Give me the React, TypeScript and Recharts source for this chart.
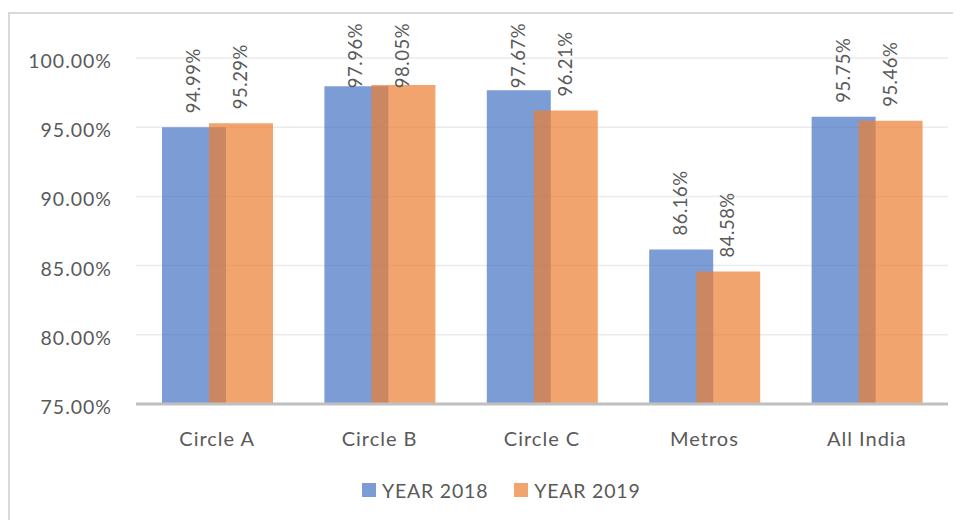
import {
  BarChart,
  Bar,
  XAxis,
  YAxis,
  CartesianGrid,
  Legend,
  LabelList,
} from "recharts";

// categories and values (in %)
const categories = ["Circle A", "Circle B", "Circle C", "Metros", "All India"];
const year2018 = [94.99, 97.96, 97.67, 86.16, 95.75];
const year2019 = [95.29, 98.05, 96.21, 84.58, 95.46];
const yTicks = [75, 80, 85, 90, 95, 100];

const FONT = "Lato, 'Open Sans', sans-serif";
const TEXT = "#595959";
const BLUE = "#4472C4";
const ORANGE = "#ED7D31";

const data = categories.map((name, i) => ({
  name,
  y2018: year2018[i],
  y2019: year2019[i],
}));

// rotated value label above each bar
const ValueLabel = (props: any) => {
  const { x, y, width, value } = props;
  const cx = x + width / 2 + 6;
  const len = 64;
  let ty = y - 14;
  let anchor = "start";
  // keep the label inside the chart frame
  if (ty - len < 9) {
    ty = 9;
    anchor = "end";
  }
  return (
    <text
      x={cx}
      y={ty}
      transform={`rotate(-90 ${cx} ${ty})`}
      textAnchor={anchor}
      fill={TEXT}
      fontFamily={FONT}
      fontSize={18.5}
      letterSpacing={0.5}
    >
      {`${Number(value).toFixed(2)}%`}
    </text>
  );
};

const YTick = (props: any) => {
  const { x, y, payload } = props;
  return (
    <text
      x={x}
      y={y + 3}
      dy="0.355em"
      textAnchor="end"
      fill={TEXT}
      fontFamily={FONT}
      fontSize={19.5}
      letterSpacing={1}
    >
      {`${payload.value.toFixed(2)}%`}
    </text>
  );
};

const XTick = (props: any) => {
  const { x, y, payload } = props;
  return (
    <text
      x={x}
      y={y}
      dy={14}
      textAnchor="middle"
      fill={TEXT}
      fontFamily={FONT}
      fontSize={20}
      letterSpacing={1}
    >
      {payload.value}
    </text>
  );
};

const LegendContent = () => {
  const items = [
    { label: "YEAR 2018", color: BLUE },
    { label: "YEAR 2019", color: ORANGE },
  ];
  return (
    <div style={{ display: "flex", alignItems: "center", height: 40 }}>
      {items.map((it) => (
        <div
          key={it.label}
          style={{ display: "flex", alignItems: "center", marginRight: 26 }}
        >
          <span
            style={{
              width: 14,
              height: 14,
              background: it.color,
              opacity: 0.7,
              marginRight: 6,
              display: "inline-block",
            }}
          />
          <span
            style={{
              fontFamily: FONT,
              fontSize: 19.5,
              letterSpacing: 0.8,
              color: TEXT,
            }}
          >
            {it.label}
          </span>
        </div>
      ))}
    </div>
  );
};

export default function App() {
  return (
    <div
      style={{
        marginTop: 4,
        width: 953,
        height: 508,
        borderTop: "2px solid #D9D9D9",
        borderLeft: "2px solid #D9D9D9",
        boxSizing: "border-box",
        overflow: "hidden",
      }}
    >
      <BarChart
        width={951}
        height={506}
        data={data}
        margin={{ top: 44, right: 13, bottom: 10, left: 0 }}
        barSize={64}
        barGap={-17}
      >
        <CartesianGrid vertical={false} stroke="#EBEBEB" strokeWidth={1.5} />
        <XAxis
          dataKey="name"
          height={66}
          tick={<XTick />}
          tickLine={false}
          tickSize={0}
          tickMargin={28}
          axisLine={{ stroke: "#BFBFBF", strokeWidth: 3 }}
        />
        <YAxis
          type="number"
          domain={[75, 100]}
          ticks={yTicks}
          width={126}
          tick={<YTick />}
          tickLine={false}
          tickMargin={18}
          axisLine={false}
          allowDataOverflow
        />
        <Legend
          verticalAlign="bottom"
          height={40}
          content={<LegendContent />}
          wrapperStyle={{ left: 352, width: 320 }}
        />
        <Bar dataKey="y2018" fill={BLUE} fillOpacity={0.7} isAnimationActive={false}>
          <LabelList dataKey="y2018" content={<ValueLabel />} />
        </Bar>
        <Bar dataKey="y2019" fill={ORANGE} fillOpacity={0.7} isAnimationActive={false}>
          <LabelList dataKey="y2019" content={<ValueLabel />} />
        </Bar>
      </BarChart>
    </div>
  );
}
